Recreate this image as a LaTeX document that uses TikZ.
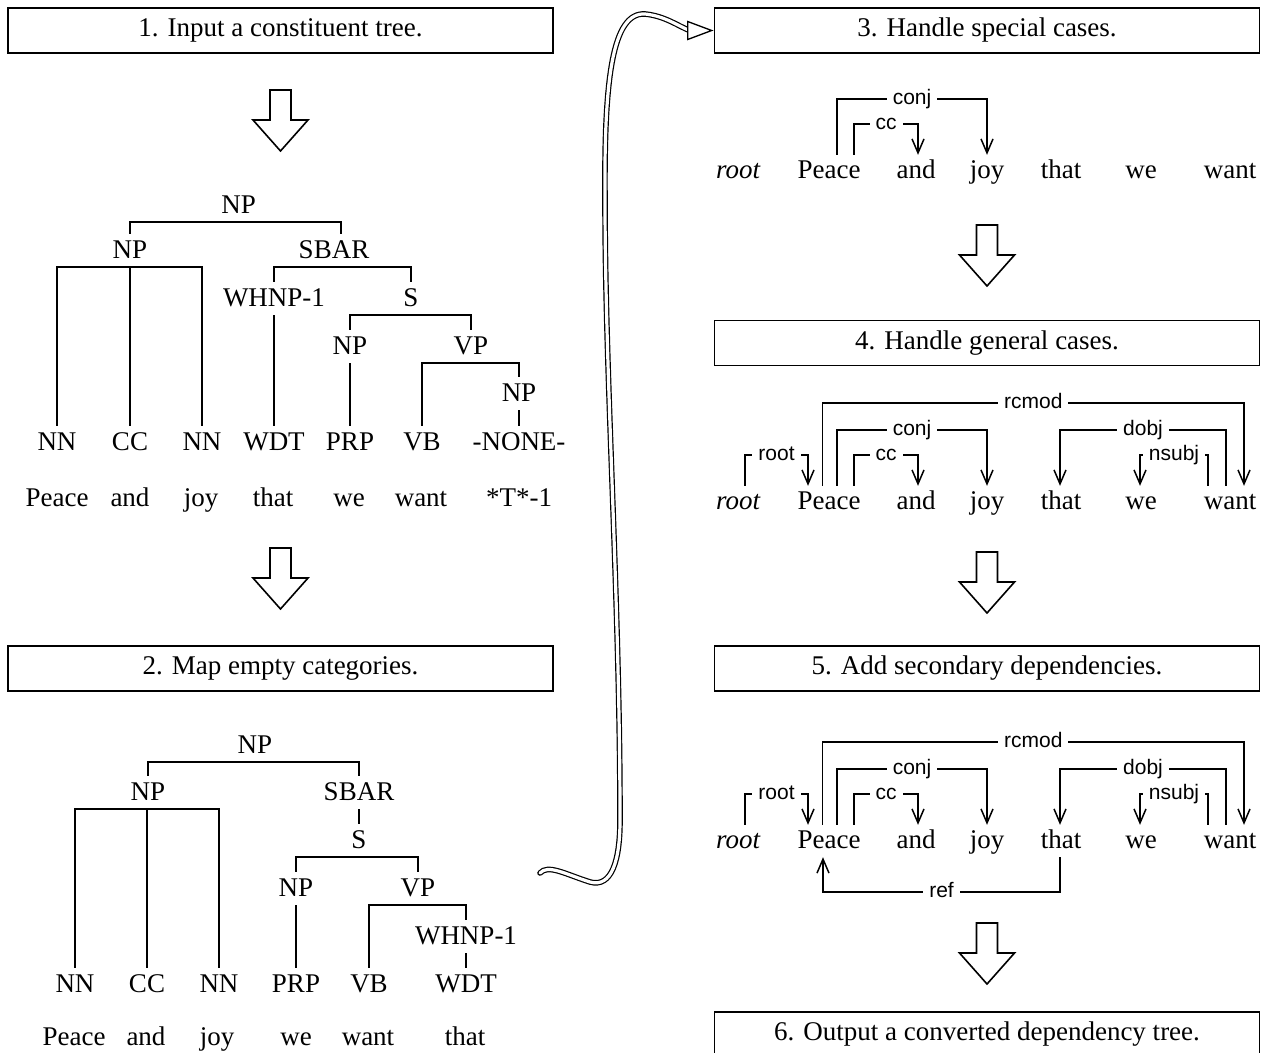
\documentclass[tikz,border=0pt]{standalone}
\usepackage{fontspec}
\setmainfont{Liberation Serif}
\newfontfamily\arcfont{Liberation Sans}
\usetikzlibrary{arrows.meta,calc}

\begin{document}
\begin{tikzpicture}[x=1pt,y=-1pt,
  every node/.style={inner sep=0pt},
  stagebox/.style={draw, line width=1.7pt, fill=white, minimum width=545pt,
    minimum height=45pt, font=\fontsize{27}{30}\selectfont},
  cat/.style={anchor=base, text height=24pt, text depth=9pt,
    font=\fontsize{27}{30}\selectfont},
  tok/.style={anchor=base, text height=23pt, text depth=9pt,
    font=\fontsize{27}{30}\selectfont},
  tree/.style={line width=1.9pt},
  dep/.style={line width=1.5pt, -{Straight Barb[length=14pt,width=12pt]}},
  deplab/.style={font=\arcfont\fontsize{21}{23}\selectfont, fill=white,
    inner xsep=6pt, inner ysep=1pt, text height=15pt, text depth=4pt},
  blockdown/.pic={\draw[line width=1.6pt, line join=miter, fill=white]
    (-10.5,0) -- (10.5,0) -- (10.5,30) -- (27.5,30) -- (0,61)
    -- (-27.5,30) -- (-10.5,30) -- cycle;}
]
\useasboundingbox (0,0) rectangle (1265,1052);
\clip (0,0) rectangle (1265,1052);

% ---------- stage boxes ----------
\node[stagebox] (b1) at (280.5,30.5) {1. Input a constituent tree.};
\node[stagebox] (b2) at (280.5,668.5) {2. Map empty categories.};
\node[stagebox] (b3) at (987,30.5) {3. Handle special cases.};
\node[stagebox] (b4) at (987,343) {4. Handle general cases.};
\node[stagebox] (b5) at (987,668.5) {5. Add secondary dependencies.};
\node[stagebox] (b6) at (987,1034.5) {6. Output a converted dependency tree.};

% ---------- block arrows between stages ----------
\pic at (280.5,90) {blockdown};
\pic at (280.5,548) {blockdown};
\pic at (987,225) {blockdown};
\pic at (987,552) {blockdown};
\pic at (987,923) {blockdown};

% ---------- long double arrow from stage 2 to stage 3 ----------
\coordinate (tail) at (540,873);
\draw[double, double distance=3.2pt, line width=1.2pt, line cap=round]
  (tail) .. controls (548,864) and (565,874) .. (590,882)
  .. controls (612,888) and (620,860) .. (620,820)
  .. controls (620,600) and (605,380) .. (605,200)
  .. controls (604,80) and (612,12) .. (645,14)
  .. controls (665,16) and (678,26) .. ([xshift=-24pt]b3.west);
\draw[line width=1.3pt, line join=miter, fill=white]
  ([xshift=-2pt]b3.west) -- ++(-24,-9) -- ++(0,18) -- cycle;

% ---------- constituent tree (stage 1) ----------
\node[cat] (t1np0) at (238.6,213) {NP};
\node[cat] (t1np1) at (130,258) {NP};
\node[cat] (t1sbar) at (334,258) {SBAR};
\node[cat] (t1whnp) at (274,306) {WHNP-1};
\node[cat] (t1s) at (411,306) {S};
\node[cat] (t1np2) at (350,354) {NP};
\node[cat] (t1vp) at (471,354) {VP};
\node[cat] (t1np3) at (519,401) {NP};
\node[cat] (t1nn1) at (57,450) {NN};
\node[cat] (t1cc) at (130,450) {CC};
\node[cat] (t1nn2) at (202,450) {NN};
\node[cat] (t1wdt) at (274,450) {WDT};
\node[cat] (t1prp) at (350,450) {PRP};
\node[cat] (t1vb) at (422,450) {VB};
\node[cat] (t1none) at (519,450) {-NONE-};
\node[cat] (t1w1) at (57,506) {Peace};
\node[cat] (t1w2) at (130,506) {and};
\node[cat] (t1w3) at (201,506) {joy};
\node[cat] (t1w4) at (273,506) {that};
\node[cat] (t1w5) at (349,506) {we};
\node[cat] (t1w6) at (421,506) {want};
\node[cat] (t1w7) at (519,506) {*T*-1};

\draw[tree] (t1np1.north) |- (t1np0.south) -| ([xshift=7pt]t1sbar.north);
\draw[tree] (t1nn1.north) |- (t1np1.south) -| (t1nn2.north);
\draw[tree] (t1cc.north) -- (t1cc.north |- t1np1.south);
\draw[tree] (t1whnp.north) |- (t1sbar.south) -| (t1s.north);
\draw[tree] (t1wdt.north) -- (t1whnp.south);
\draw[tree] (t1np2.north) |- (t1s.south) -| (t1vp.north);
\draw[tree] (t1prp.north) -- (t1np2.south);
\draw[tree] (t1vb.north) |- (t1vp.south) -| (t1np3.north);
\draw[tree] (t1none.north) -- (t1np3.south);

% ---------- tree with mapped empty categories (stage 2) ----------
\node[cat] (t2np0) at (255,753) {NP};
\node[cat] (t2np1) at (148,800) {NP};
\node[cat] (t2sbar) at (359,800) {SBAR};
\node[cat] (t2s) at (359,848) {S};
\node[cat] (t2np2) at (296,896) {NP};
\node[cat] (t2vp) at (418,896) {VP};
\node[cat] (t2whnp) at (466,944) {WHNP-1};
\node[cat] (t2nn1) at (75,992) {NN};
\node[cat] (t2cc) at (147,992) {CC};
\node[cat] (t2nn2) at (219,992) {NN};
\node[cat] (t2prp) at (296,992) {PRP};
\node[cat] (t2vb) at (369,992) {VB};
\node[cat] (t2wdt) at (466,992) {WDT};
\node[cat] (t2w1) at (74,1045) {Peace};
\node[cat] (t2w2) at (146,1045) {and};
\node[cat] (t2w3) at (217,1045) {joy};
\node[cat] (t2w4) at (296,1045) {we};
\node[cat] (t2w5) at (368,1045) {want};
\node[cat] (t2w6) at (465,1045) {that};

\draw[tree] (t2np1.north) |- (t2np0.south) -| (t2sbar.north);
\draw[tree] (t2nn1.north) |- (t2np1.south) -| (t2nn2.north);
\draw[tree] (t2cc.north) -- (t2cc.north |- t2np1.south);
\draw[tree] (t2s.north) -- (t2sbar.south);
\draw[tree] (t2np2.north) |- (t2s.south) -| (t2vp.north);
\draw[tree] (t2prp.north) -- (t2np2.south);
\draw[tree] (t2vb.north) |- (t2vp.south) -| (t2whnp.north);
\draw[tree] (t2wdt.north) -- (t2whnp.south);

% ---------- dependencies after special cases (stage 3) ----------
\node[tok] (g3root) at (738,178) {\itshape root};
\node[tok] (g3peace) at (829,178) {Peace};
\node[tok] (g3and) at (916,178) {and};
\node[tok] (g3joy) at (987,178) {joy};
\node[tok] (g3that) at (1061,178) {that};
\node[tok] (g3we) at (1141,178) {we};
\node[tok] (g3want) at (1230,178) {want};

\draw[dep] ([xshift=8pt]g3peace.north) -- ++(0,-56) -| node[deplab,pos=0.25]{conj} (g3joy.north);
\draw[dep] ([xshift=25pt]g3peace.north) -- ++(0,-31) -| node[deplab,pos=0.25]{cc} ([xshift=2pt]g3and.north);

% ---------- dependencies after general cases (stage 4) ----------
\node[tok] (g4root) at (738,509) {\itshape root};
\node[tok] (g4peace) at (829,509) {Peace};
\node[tok] (g4and) at (916,509) {and};
\node[tok] (g4joy) at (987,509) {joy};
\node[tok] (g4that) at (1061,509) {that};
\node[tok] (g4we) at (1141,509) {we};
\node[tok] (g4want) at (1230,509) {want};

\draw[dep] ([xshift=7pt]g4root.north) -- ++(0,-31) -| node[deplab,pos=0.25]{root} ([xshift=-21pt]g4peace.north);
\draw[dep] ([xshift=-6.5pt]g4peace.north) -- ++(0,-83) -| node[deplab,pos=0.25]{rcmod} ([xshift=14pt]g4want.north);
\draw[dep] ([xshift=8pt]g4peace.north) -- ++(0,-56) -| node[deplab,pos=0.25]{conj} (g4joy.north);
\draw[dep] ([xshift=25pt]g4peace.north) -- ++(0,-31) -| node[deplab,pos=0.25]{cc} ([xshift=2pt]g4and.north);
\draw[dep] ([xshift=-4pt]g4want.north) -- ++(0,-56) -| node[deplab,pos=0.25]{dobj} ([xshift=-1pt]g4that.north);
\draw[dep] ([xshift=-22pt]g4want.north) -- ++(0,-31) -| node[deplab,pos=0.25]{nsubj} ([xshift=-1pt]g4we.north);

% ---------- with secondary dependencies (stage 5) ----------
\node[tok] (g5root) at (738,848) {\itshape root};
\node[tok] (g5peace) at (829,848) {Peace};
\node[tok] (g5and) at (916,848) {and};
\node[tok] (g5joy) at (987,848) {joy};
\node[tok] (g5that) at (1061,848) {that};
\node[tok] (g5we) at (1141,848) {we};
\node[tok] (g5want) at (1230,848) {want};

\draw[dep] ([xshift=7pt]g5root.north) -- ++(0,-31) -| node[deplab,pos=0.25]{root} ([xshift=-21pt]g5peace.north);
\draw[dep] ([xshift=-6.5pt]g5peace.north) -- ++(0,-83) -| node[deplab,pos=0.25]{rcmod} ([xshift=14pt]g5want.north);
\draw[dep] ([xshift=8pt]g5peace.north) -- ++(0,-56) -| node[deplab,pos=0.25]{conj} (g5joy.north);
\draw[dep] ([xshift=25pt]g5peace.north) -- ++(0,-31) -| node[deplab,pos=0.25]{cc} ([xshift=2pt]g5and.north);
\draw[dep] ([xshift=-4pt]g5want.north) -- ++(0,-56) -| node[deplab,pos=0.25]{dobj} ([xshift=-1pt]g5that.north);
\draw[dep] ([xshift=-22pt]g5want.north) -- ++(0,-31) -| node[deplab,pos=0.25]{nsubj} ([xshift=-1pt]g5we.north);
\draw[dep] ([xshift=-1pt]g5that.south) -- ++(0,35) -| node[deplab,pos=0.25]{ref} ([xshift=-6pt]g5peace.south);
\end{tikzpicture}
\end{document}
